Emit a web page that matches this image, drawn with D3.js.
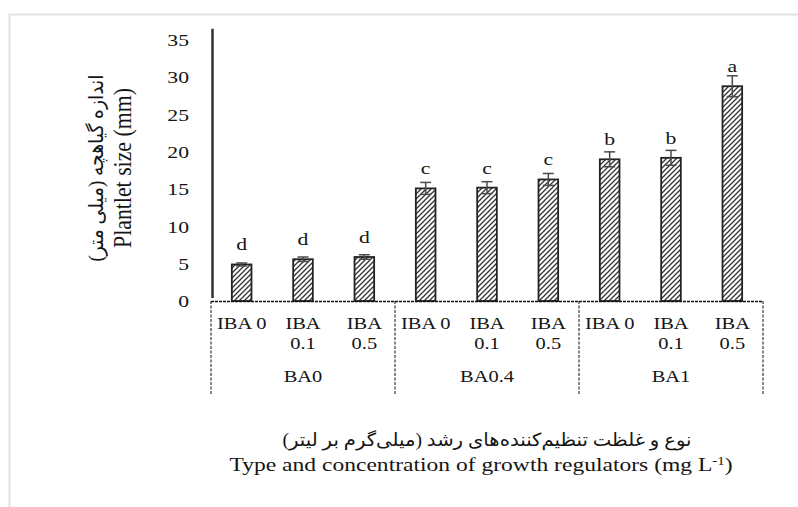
<!DOCTYPE html>
<html>
<head>
<meta charset="utf-8">
<script src="https://cdn.jsdelivr.net/npm/d3@7/dist/d3.min.js"></script>
<style>
  html, body { margin: 0; padding: 0; background: #fff; }
  svg { display: block; }
  text { font-family: "Liberation Serif", "Times New Roman", "DejaVu Serif", "DejaVu Sans", serif; fill: #151515; }
</style>
</head>
<body>
<svg id="chart" width="798" height="507"></svg>
<script>
// Treatments: IBA level within each BA level
const groups = ["BA0", "BA0.4", "BA1"];
const ibaLevels = [["IBA 0"], ["IBA", "0.1"], ["IBA", "0.5"]];
const categories = ["BA0|IBA0", "BA0|IBA0.1", "BA0|IBA0.5",
                    "BA0.4|IBA0", "BA0.4|IBA0.1", "BA0.4|IBA0.5",
                    "BA1|IBA0", "BA1|IBA0.1", "BA1|IBA0.5"];
// Mean plantlet size (mm) and standard error
const means = [4.9, 5.6, 5.9, 15.1, 15.2, 16.3, 19.0, 19.2, 28.8];
const errors = [0.2, 0.3, 0.3, 0.8, 0.8, 0.8, 1.0, 1.0, 1.4];
const letters = ["d", "d", "d", "c", "c", "c", "b", "b", "a"];
const yTicks = [0, 5, 10, 15, 20, 25, 30, 35];

// glyphs are drawn a little wide
const SX = 1.24;

const svg = d3.select("#chart");

// outer frame
svg.append("path")
  .attr("d", "M9.5,507 V14.5 H798")
  .attr("fill", "none").attr("stroke", "#e2e2e2").attr("stroke-width", 2);

const plotLeft = 211, plotRight = 763, plotTop = 40, plotBase = 301;

const x = d3.scaleBand().domain(categories).range([plotLeft, plotRight]).paddingInner(0.68).paddingOuter(0.34);
const y = d3.scaleLinear().domain([0, 35]).range([plotBase, plotTop]);

// wide text placed at (px, py)
function wideText(parent, px, py, str, size, anchor = "middle") {
  return parent.append("text")
    .attr("transform", `translate(${px},${py}) scale(${SX},1)`)
    .attr("text-anchor", anchor)
    .style("font-size", size + "px")
    .text(str);
}

// hatch pattern for bars
const defs = svg.append("defs");
const pat = defs.append("pattern")
  .attr("id", "hatch").attr("patternUnits", "userSpaceOnUse")
  .attr("width", 5).attr("height", 5);
pat.append("rect").attr("width", 5).attr("height", 5).attr("fill", "#fff");
pat.append("path")
  .attr("d", "M-1,1 l2,-2 M0,5 l5,-5 M4,6 l2,-2")
  .attr("stroke", "#333").attr("stroke-width", 1.3);

// y axis labels
const yAxis = d3.axisLeft(y).tickValues(yTicks).tickSize(0).tickPadding(0);
const gy = svg.append("g").attr("transform", `translate(189,0)`).call(yAxis);
gy.select(".domain").remove();
gy.selectAll("text")
  .attr("x", 0)
  .attr("transform", `scale(${SX},1)`)
  .style("font-size", "17.5px").attr("fill", "#151515")
  .style("font-family", "'Liberation Serif', serif");

// y axis line
svg.append("line")
  .attr("x1", plotLeft + 1.5).attr("x2", plotLeft + 1.5)
  .attr("y1", y(36.5)).attr("y2", plotBase - 3)
  .attr("stroke", "#2a2a2a").attr("stroke-width", 2.4);

// bars
svg.append("g").selectAll("rect").data(categories).join("rect")
  .attr("x", d => x(d))
  .attr("y", (d, i) => y(means[i]))
  .attr("width", x.bandwidth())
  .attr("height", (d, i) => y(0) - y(means[i]))
  .attr("fill", "url(#hatch)")
  .attr("stroke", "#222").attr("stroke-width", 1.8);

// error bars
const eb = svg.append("g").attr("stroke", "#4a4a4a").attr("stroke-width", 1.5);
categories.forEach((c, i) => {
  const cx = x(c) + x.bandwidth() / 2;
  const y1 = y(means[i] + errors[i]), y2 = y(means[i] - errors[i]);
  eb.append("line").attr("x1", cx).attr("x2", cx).attr("y1", y1).attr("y2", y2);
  eb.append("line").attr("x1", cx - 5.5).attr("x2", cx + 5.5).attr("y1", y1).attr("y2", y1);
  eb.append("line").attr("x1", cx - 5.5).attr("x2", cx + 5.5).attr("y1", y2).attr("y2", y2);
});

// significance letters
const lg = svg.append("g");
categories.forEach((c, i) => {
  wideText(lg, x(c) + x.bandwidth() / 2, y(means[i]) - 14, letters[i], 17.5);
});

// category table: baseline and group separators (dashed)
svg.append("line")
  .attr("x1", plotLeft).attr("x2", plotRight).attr("y1", plotBase + 0.5).attr("y2", plotBase + 0.5)
  .attr("stroke", "#111").attr("stroke-width", 1.6).attr("stroke-dasharray", "3,1");
const groupScale = d3.scaleBand().domain(groups).range([plotLeft, plotRight]);
const seps = groups.map(g => groupScale(g)).concat([plotRight]);
svg.append("g").selectAll("line").data(seps).join("line")
  .attr("x1", d => d).attr("x2", d => d)
  .attr("y1", plotBase).attr("y2", 394)
  .attr("stroke", "#222").attr("stroke-width", 1.1).attr("stroke-dasharray", "3,1.5");

// IBA labels
const cg = svg.append("g");
categories.forEach((c, i) => {
  const cx = x(c) + x.bandwidth() / 2;
  ibaLevels[i % 3].forEach((l, k) => wideText(cg, cx, 329 + k * 19.5, l, 16.5));
});

// BA group labels
groups.forEach(g => wideText(svg, groupScale(g) + groupScale.bandwidth() / 2, 382, g, 16.5));

// y axis titles (rotated)
svg.append("text")
  .attr("transform", `translate(131,168) rotate(-90) scale(1,${SX})`)
  .attr("text-anchor", "middle").style("font-size", "20.5px")
  .attr("textLength", 160).attr("lengthAdjust", "spacingAndGlyphs")
  .text("Plantlet size (mm)");
svg.append("text")
  .attr("transform", `translate(103,168) rotate(-90)`)
  .attr("text-anchor", "middle").attr("direction", "rtl")
  .style("font-size", "20px")
  .attr("textLength", 187).attr("lengthAdjust", "spacingAndGlyphs")
  .text("اندازه گیاهچه (میلی متر)");

// x axis titles
svg.append("text")
  .attr("x", 487).attr("y", 446)
  .attr("text-anchor", "middle").attr("direction", "rtl")
  .style("font-size", "18px")
  .attr("textLength", 409).attr("lengthAdjust", "spacingAndGlyphs")
  .text("نوع و غلظت تنظیم‌کننده‌های رشد (میلی‌گرم بر لیتر)");
const xt = wideText(svg, 481, 471, "", 19);
xt.append("tspan").text("Type and concentration of growth regulators (mg L");
xt.append("tspan").attr("dy", -6).style("font-size", "12px").text("-1");
xt.append("tspan").attr("dy", 6).text(")");
</script>
</body>
</html>
